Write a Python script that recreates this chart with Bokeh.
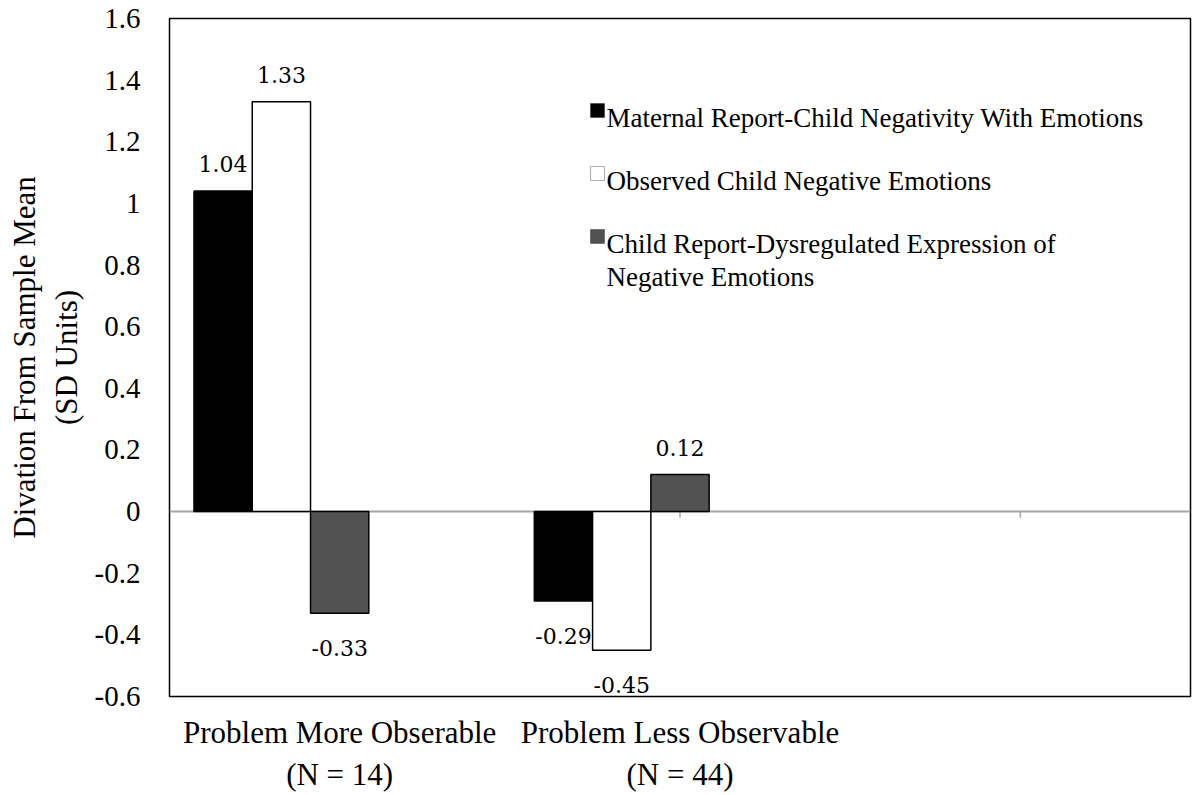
from bokeh.plotting import figure
from bokeh.models import (Range1d, FixedTicker, PrintfTickFormatter, Span,
                          Label, BoxAnnotation, ColumnDataSource)
from bokeh.core.properties import value
from bokeh.embed import file_html
from bokeh.resources import INLINE

# ---- data -------------------------------------------------------------
categories = ["Problem More Obserable\n(N = 14)",
              "Problem Less Observable\n(N = 44)",
              ""]
series_names = ["Maternal Report-Child Negativity With Emotions",
                "Observed Child Negative Emotions",
                "Child Report-Dysregulated Expression of\nNegative Emotions"]
maternal_report = [1.04, -0.29]
observed_negative = [1.33, -0.45]
child_report = [-0.33, 0.12]
y_ticks = [-0.6, -0.4, -0.2, 0.0, 0.2, 0.4, 0.6, 0.8, 1.0, 1.2, 1.4, 1.6]

series_values = [maternal_report, observed_negative, child_report]
fill_colors = ["#000000", "#ffffff", "#525252"]

SERIF = "Liberation Serif"
LABEL_FONT = "DejaVu Serif"

# each category is one unit wide and holds five bar slots
slots = 5
bar_w = 1.0 / 5.84
centers = [i + 0.5 for i in range(len(categories))]

p = figure(width=1195, height=795,
           x_range=Range1d(0, len(categories)), y_range=Range1d(-0.6, 1.6),
           output_backend="svg", toolbar_location=None,
           min_border_left=169, min_border_right=5,
           min_border_top=18, min_border_bottom=99)
p.background_fill_color = "white"
p.border_fill_color = "white"
p.outline_line_color = "#000000"
p.outline_line_width = 1.5
p.xgrid.visible = False
p.ygrid.visible = False

# zero line with category tick marks
p.add_layout(Span(location=0, dimension="width", line_color="#a6a6a6",
                  line_width=2, level="underlay"))
p.segment(x0=centers, x1=centers, y0=[0] * len(centers),
          y1=[-0.02] * len(centers), line_color="#a6a6a6", line_width=1.5)

# bars and value labels
for k, (vals, color) in enumerate(zip(series_values, fill_colors)):
    offset = (k - (slots - 1) / 2) * bar_w
    xs = [centers[i] + offset for i in range(len(vals))]
    src = ColumnDataSource(dict(x=xs, top=vals))
    p.vbar(x="x", top="top", bottom=0, width=bar_w, source=src,
           fill_color=color, line_color="#000000", line_width=1.5)
    pos = [i for i, v in enumerate(vals) if v >= 0]
    neg = [i for i, v in enumerate(vals) if v < 0]
    if pos:
        p.text(x=[xs[i] for i in pos], y=[vals[i] for i in pos],
               text=[f"{vals[i]:.2f}" for i in pos],
               text_align="center", text_baseline="bottom", y_offset=-19,
               text_font=value(LABEL_FONT), text_font_size="22px",
               text_color="#000000")
    if neg:
        p.text(x=[xs[i] for i in neg], y=[vals[i] for i in neg],
               text=[f"{vals[i]:.2f}" for i in neg],
               text_align="center", text_baseline="top", y_offset=27,
               text_font=value(LABEL_FONT), text_font_size="22px",
               text_color="#000000")

# y axis
yax = p.yaxis[0]
yax.ticker = FixedTicker(ticks=y_ticks)
yax.formatter = PrintfTickFormatter(format="%g")
yax.axis_line_color = None
yax.major_tick_line_color = None
yax.major_tick_out = 0
yax.major_tick_in = 0
yax.minor_tick_line_color = None
yax.major_label_standoff = 29
yax.major_label_text_font = SERIF
yax.major_label_text_font_size = "29px"
yax.major_label_text_color = "#000000"
yax.axis_label = "Divation From Sample Mean\n(SD Units)"
yax.axis_label_text_font = SERIF
yax.axis_label_text_font_size = "31px"
yax.axis_label_text_font_style = "normal"
yax.axis_label_text_color = "#000000"
yax.axis_label_standoff = 8

# x axis: category names under the frame
xax = p.xaxis[0]
xax.ticker = FixedTicker(ticks=centers)
xax.major_label_overrides = {c: name for c, name in zip(centers, categories)}
xax.axis_line_color = None
xax.major_tick_line_color = None
xax.major_tick_out = 0
xax.major_tick_in = 0
xax.minor_tick_line_color = None
xax.major_label_standoff = 18
xax.major_label_text_font = SERIF
xax.major_label_text_font_size = "31px"
xax.major_label_text_color = "#000000"

# legend, placed in frame pixels (origin at the frame's lower left)
key_left = 421
key_size = 14
key_top = 593
entry_step = 63
line_step = 33
text_drop = 14          # first text line sits this far below the key's top
for k, (name, color) in enumerate(zip(series_names, fill_colors)):
    top = key_top - k * entry_step
    p.add_layout(BoxAnnotation(left=key_left, right=key_left + key_size,
                               bottom=top - key_size, top=top,
                               left_units="screen", right_units="screen",
                               bottom_units="screen", top_units="screen",
                               fill_color=color, fill_alpha=1,
                               line_color="#000000", line_width=1.2,
                               level="overlay"))
    for j, line in enumerate(name.split("\n")):
        p.add_layout(Label(x=key_left + key_size + 2,
                           y=top - text_drop - j * line_step,
                           x_units="screen", y_units="screen", text=line,
                           text_font=SERIF, text_font_size="27px",
                           text_baseline="alphabetic", text_color="#000000"))

open("out.html", "w").write(file_html(p, INLINE))
